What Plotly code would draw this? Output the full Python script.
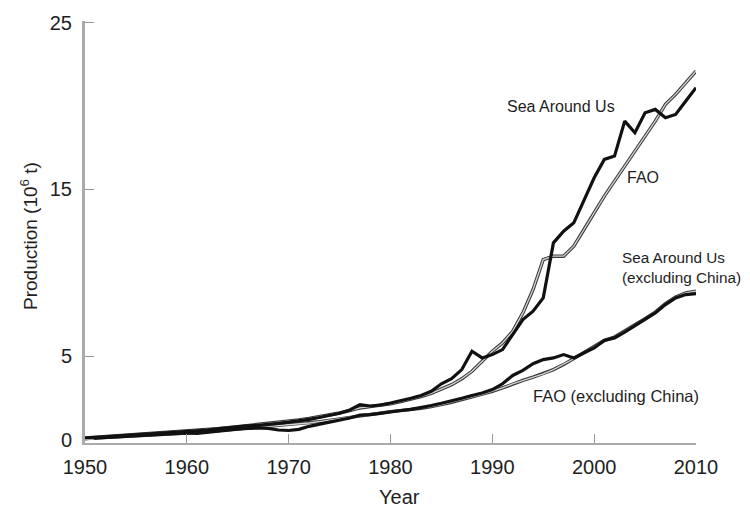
import plotly.graph_objects as go

years = list(range(1950, 2011))

sau_total = [0.10, 0.14, 0.18, 0.22, 0.25, 0.28, 0.31, 0.34, 0.38, 0.43,
             0.48, 0.50, 0.57, 0.65, 0.72, 0.78, 0.83, 0.86, 0.90, 0.98,
             1.05, 1.12, 1.22, 1.33, 1.45, 1.58, 1.78, 2.10, 2.02, 2.08,
             2.20, 2.32, 2.48, 2.65, 2.90, 3.35, 3.65, 4.20, 5.30, 4.90,
             5.10, 5.40, 6.30, 7.20, 7.70, 8.50, 11.80, 12.50, 13.00, 14.30,
             15.70, 16.80, 17.00, 19.10, 18.40, 19.60, 19.80, 19.30, 19.50, 20.30,
             21.10]

fao_total = [0.10, 0.14, 0.18, 0.22, 0.26, 0.30, 0.34, 0.38, 0.42, 0.46,
             0.50, 0.55, 0.60, 0.66, 0.72, 0.78, 0.84, 0.90, 0.96, 1.02,
             1.10, 1.18, 1.27, 1.37, 1.48, 1.60, 1.74, 1.90, 1.98, 2.06,
             2.15, 2.28, 2.42, 2.58, 2.78, 3.02, 3.30, 3.65, 4.10, 4.70,
             5.30, 5.80, 6.50, 7.60, 9.00, 10.80, 11.00, 11.00, 11.60, 12.60,
             13.60, 14.60, 15.50, 16.40, 17.30, 18.20, 19.10, 20.10, 20.70, 21.40,
             22.10]

sau_excl_china = [0.06, 0.09, 0.12, 0.15, 0.18, 0.21, 0.24, 0.27, 0.31, 0.36,
                  0.40, 0.38, 0.45, 0.52, 0.58, 0.63, 0.67, 0.70, 0.68, 0.58,
                  0.55, 0.62, 0.80, 0.92, 1.02, 1.15, 1.30, 1.48, 1.50, 1.58,
                  1.68, 1.75, 1.82, 1.92, 2.05, 2.18, 2.32, 2.48, 2.65, 2.80,
                  3.00, 3.35, 3.85, 4.15, 4.55, 4.80, 4.90, 5.10, 4.90, 5.20,
                  5.50, 5.95, 6.10, 6.45, 6.85, 7.20, 7.60, 8.10, 8.50, 8.70,
                  8.75]

fao_excl_china = [0.06, 0.09, 0.12, 0.15, 0.18, 0.21, 0.24, 0.28, 0.32, 0.36,
                  0.40, 0.43, 0.48, 0.53, 0.58, 0.63, 0.68, 0.73, 0.78, 0.83,
                  0.88, 0.94, 1.00, 1.08, 1.16, 1.25, 1.35, 1.45, 1.52, 1.60,
                  1.68, 1.74, 1.80, 1.88, 1.98, 2.10, 2.24, 2.40, 2.56, 2.72,
                  2.90, 3.10, 3.35, 3.55, 3.75, 3.95, 4.20, 4.50, 4.85, 5.20,
                  5.55, 5.95, 6.15, 6.50, 6.90, 7.25, 7.65, 8.15, 8.55, 8.80,
                  8.90]

x_ticks = [1950, 1960, 1970, 1980, 1990, 2000, 2010]
y_ticks = [0, 5, 15, 25]

FONT = "Liberation Sans, Arial, sans-serif"
TXT = "#1e1e1e"

fig = go.Figure()

# FAO series: outlined (hollow) lines
for series in (fao_total, fao_excl_china):
    fig.add_trace(go.Scatter(x=years, y=series, mode="lines",
                             line=dict(color="#3a3a3a", width=3.4),
                             showlegend=False, hoverinfo="skip"))
    fig.add_trace(go.Scatter(x=years, y=series, mode="lines",
                             line=dict(color="#d4d4d4", width=1.3),
                             showlegend=False))

# Sea Around Us series: solid black
for series in (sau_total, sau_excl_china):
    fig.add_trace(go.Scatter(x=years, y=series, mode="lines",
                             line=dict(color="#111111", width=3.2),
                             showlegend=False))

ann_font = dict(family=FONT, size=16, color=TXT)
annotations = [
    dict(x=1996.7, y=20.0, text="Sea Around Us", showarrow=False,
         xref="x", yref="y", font=ann_font),
    dict(x=2004.8, y=15.7, text="FAO", showarrow=False,
         xref="x", yref="y", font=ann_font),
    dict(x=2002.5, y=10.3, text="Sea Around Us<br>(excluding China)",
         showarrow=False, xref="x", yref="y", xanchor="left", align="left",
         font=dict(family=FONT, size=15.3, color=TXT)),
    dict(x=2002.1, y=2.6, text="FAO (excluding China)", showarrow=False,
         xref="x", yref="y", font=dict(family=FONT, size=16.5, color=TXT)),
    dict(x=0.514, y=-0.128, text="Year", showarrow=False, xref="paper",
         yref="paper", xanchor="center", yanchor="middle",
         font=dict(family=FONT, size=20, color=TXT)),
    dict(x=-0.092, y=0.49, text="Production (10<sup>6</sup> t)", showarrow=False,
         xref="paper", yref="paper", textangle=-90,
         xanchor="center", yanchor="middle",
         font=dict(family=FONT, size=19, color=TXT)),
]

fig.update_layout(
    width=750, height=510,
    margin=dict(l=77, r=62, t=13, b=75),
    paper_bgcolor="white", plot_bgcolor="white",
    annotations=annotations,
    xaxis=dict(range=[1950, 2010], tickvals=x_ticks, ticks="inside",
               ticklen=9, tickcolor="#999999", tickwidth=1,
               showline=True, linecolor="#aaaaaa", linewidth=2,
               showgrid=False, zeroline=False, automargin=False,
               tickfont=dict(family=FONT, size=20, color=TXT),
               ticklabelstandoff=5),
    yaxis=dict(range=[-0.2, 25.1], tickvals=y_ticks, ticks="inside",
               ticklen=9, tickcolor="#999999", tickwidth=1,
               showline=True, linecolor="#aaaaaa", linewidth=3,
               showgrid=False, zeroline=False, automargin=False,
               tickfont=dict(family=FONT, size=20, color=TXT),
               ticklabelstandoff=6),
)

fig.write_html("out.html")
